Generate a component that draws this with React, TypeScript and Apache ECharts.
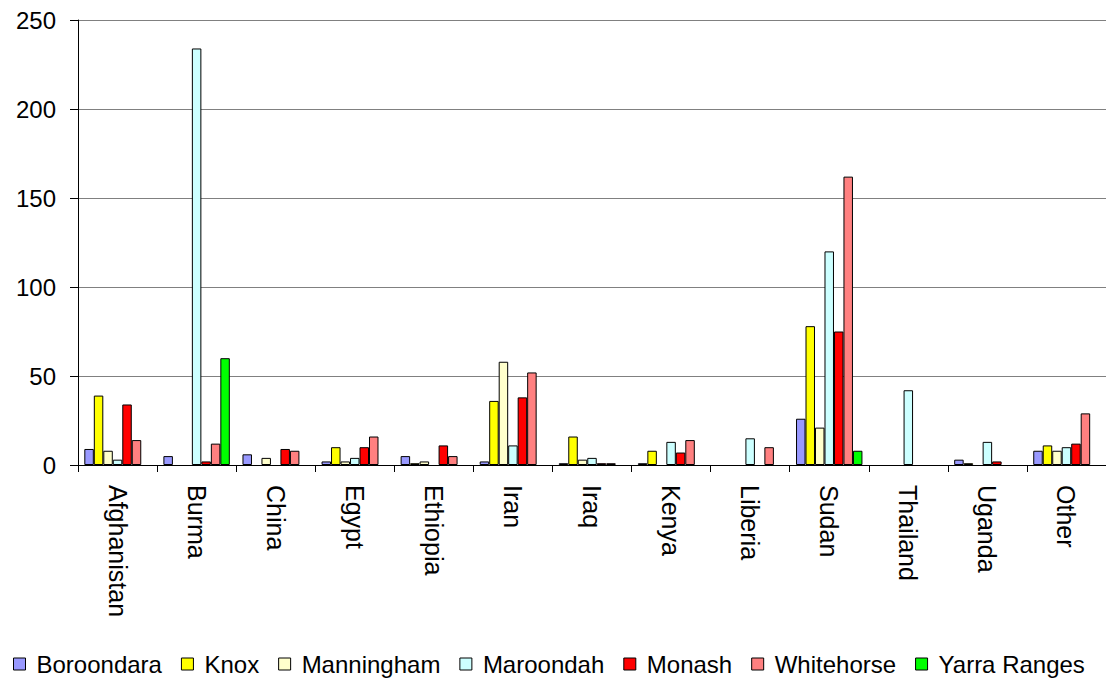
import React, { useEffect, useRef } from "react";
import * as echarts from "echarts";

const categories = ["Afghanistan", "Burma", "China", "Egypt", "Ethiopia", "Iran", "Iraq", "Kenya", "Liberia", "Sudan", "Thailand", "Uganda", "Other"];
const seriesNames = ["Boroondara", "Knox", "Manningham", "Maroondah", "Monash", "Whitehorse", "Yarra Ranges"];
const boroondara = [9, 5, 6, 2, 5, 2, 1, 1, 0, 26, 0, 3, 8];
const knox = [39, 0, 0, 10, 1, 36, 16, 8, 0, 78, 0, 1, 11];
const manningham = [8, 0, 4, 2, 2, 58, 3, 0, 0, 21, 0, 0, 8];
const maroondah = [3, 234, 0, 4, 0, 11, 4, 13, 15, 120, 42, 13, 10];
const monash = [34, 2, 9, 10, 11, 38, 1, 7, 0, 75, 0, 2, 12];
const whitehorse = [14, 12, 8, 16, 5, 52, 1, 14, 10, 162, 0, 0, 29];
const yarraRanges = [0, 60, 0, 0, 0, 0, 0, 0, 0, 8, 0, 0, 0];
const colors = ["#9999FF", "#FFFF00", "#FFFFCC", "#CCFFFF", "#FF0000", "#FF8080", "#00FF00"];

const FONT = "'Liberation Sans', Arial, sans-serif";

export default function App() {
  const ref = useRef<HTMLDivElement>(null);
  useEffect(() => {
    if (!ref.current) return;
    const chart = echarts.init(ref.current, undefined, { renderer: "svg" });
    const values = [boroondara, knox, manningham, maroondah, monash, whitehorse, yarraRanges];
    chart.setOption({
      animation: false,
      backgroundColor: "#ffffff",
      textStyle: { fontFamily: FONT },
      grid: { left: 78, top: 20, width: 1030, height: 445, containLabel: false },
      legend: {
        left: 8,
        top: 646,
        width: 1300,
        itemWidth: 12,
        itemHeight: 12,
        itemGap: 19,
        icon: "rect",
        data: seriesNames,
        textStyle: { fontSize: 24, lineHeight: 26, color: "#000", fontFamily: FONT, padding: [0, 0, 0, 6] },
        itemStyle: { borderColor: "#000", borderWidth: 1 },
      },
      xAxis: {
        type: "category",
        data: categories,
        axisLine: { lineStyle: { color: "#000", width: 1 } },
        axisTick: { show: true, length: 7, lineStyle: { color: "#000" } },
        axisLabel: {
          rotate: -90,
          fontSize: 25,
          color: "#000",
          fontFamily: FONT,
          margin: 20,
          padding: [10, 0, 0, 0],
        },
        splitLine: { show: false },
      },
      yAxis: {
        type: "value",
        min: 0,
        max: 250,
        interval: 50,
        axisLine: { show: true, lineStyle: { color: "#000", width: 1 } },
        axisTick: { show: true, length: 8, lineStyle: { color: "#000" } },
        axisLabel: { fontSize: 24, color: "#000", fontFamily: FONT, margin: 22 },
        splitLine: { lineStyle: { color: "#808080", width: 1 } },
      },
      series: seriesNames.map((name, i) => ({
        name,
        type: "bar",
        data: values[i].map((v) => (v === 0 ? "-" : v)),
        barGap: "0%",
        barCategoryGap: "16%",
        itemStyle: { color: colors[i], borderColor: "#000", borderWidth: 1 },
      })),
    });
    return () => chart.dispose();
  }, []);
  return (
    <div
      ref={ref}
      style={{ position: "fixed", left: 0, top: 0, width: 1106, height: 681 }}
    />
  );
}
